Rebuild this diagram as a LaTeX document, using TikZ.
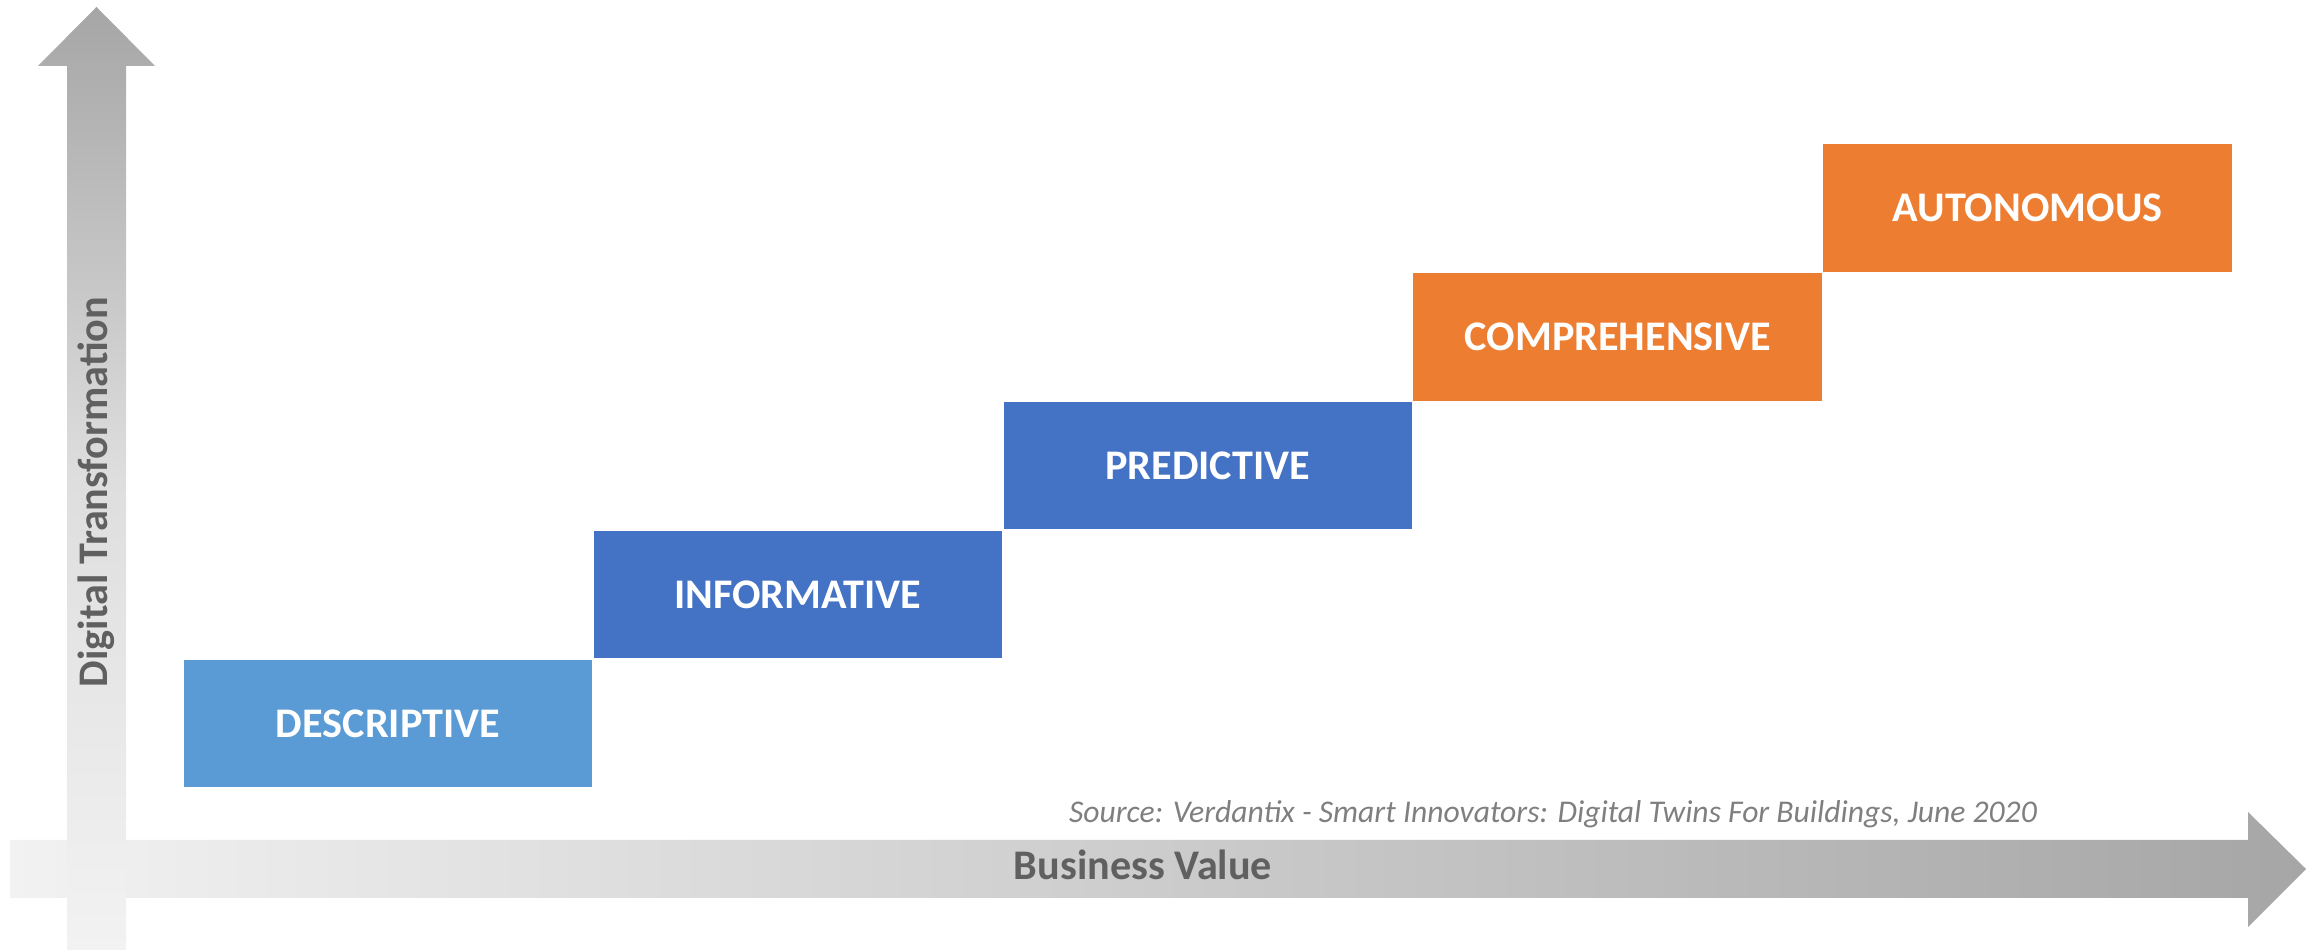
\documentclass[tikz,border=0pt]{standalone}
\usepackage{fontspec}
\setmainfont{Carlito}
\usepackage{tikz}
\usetikzlibrary{positioning}

\definecolor{paleblue}{HTML}{5B9BD5}
\definecolor{deepblue}{HTML}{4472C4}
\definecolor{warmorange}{HTML}{ED7D31}
\definecolor{axisdark}{HTML}{A6A6A6}
\definecolor{axismid}{HTML}{DEDEDE}
\definecolor{axislight}{HTML}{F2F2F2}
\definecolor{axistext}{HTML}{606060}
\definecolor{sourcetext}{HTML}{7F7F7F}

\begin{document}
\begin{tikzpicture}[stage/.style={rectangle,minimum width=4.085cm,minimum height=1.275cm,inner sep=0pt,
            text=white,font=\fontsize{12}{14}\selectfont\bfseries},
        pale/.style={fill=paleblue},
        deep/.style={fill=deepblue},
        warm/.style={fill=warmorange},
        axislabel/.style={text=axistext,font=\fontsize{12}{14}\selectfont\bfseries,inner sep=0pt},
        source/.style={text=sourcetext,font=\fontsize{9}{11}\selectfont\itshape,inner sep=0pt}]

    \useasboundingbox (0,0) rectangle (23.18,9.5);

    % axes
    \shade[left color=axislight,middle color=axismid,right color=axisdark]
        (0.10,0.52) -- (22.48,0.52) -- (22.48,0.23) -- (23.06,0.81)
        -- (22.48,1.38) -- (22.48,1.10) -- (0.10,1.10) -- cycle;
    \shade[top color=axisdark,bottom color=axislight,middle color=axismid]
        (0.67,0) -- (0.67,8.84) -- (0.38,8.84) -- (0.965,9.43)
        -- (1.55,8.84) -- (1.26,8.84) -- (1.26,0) -- cycle;

    \node[axislabel,rotate=90,anchor=base] (trans) at (1.08,4.58) {Digital Transformation};
    \node[axislabel,anchor=base] (value) at (11.43,0.70) {Business Value};
    \node[source,anchor=base] (src) at (15.53,1.27)
        {Source: Verdantix - Smart Innovators: Digital Twins For Buildings, June 2020};

    % stages
    \node[stage,pale,anchor=south west] (desc) at (1.83,1.62) {DESCRIPTIVE};
    \node[stage,deep,above right=0pt and 0pt of desc] (info) {INFORMATIVE};
    \node[stage,deep,above right=0pt and 0pt of info] (pred) {PREDICTIVE};
    \node[stage,warm,above right=0pt and 0pt of pred] (comp) {COMPREHENSIVE};
    \node[stage,warm,above right=0pt and 0pt of comp] (auto) {AUTONOMOUS};
\end{tikzpicture}
\end{document}
